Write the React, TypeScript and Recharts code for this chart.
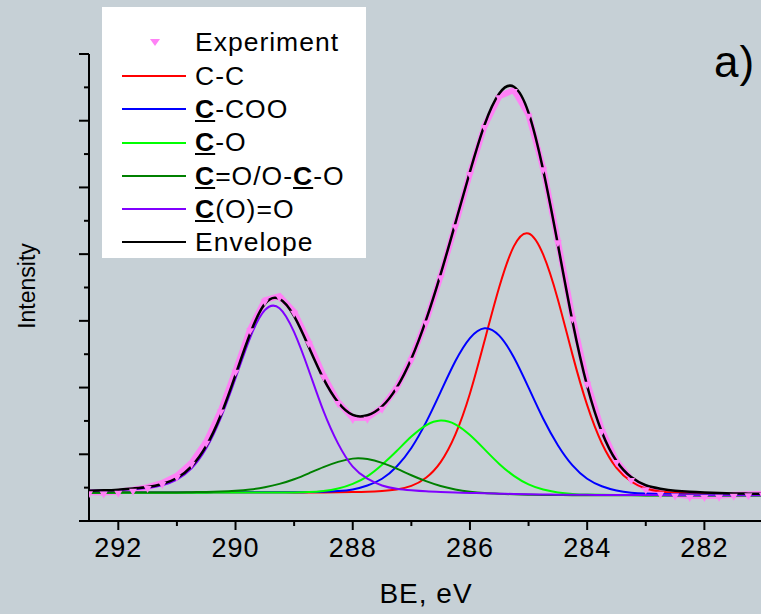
import React from 'react';
import { LineChart, Line, XAxis, YAxis, Legend } from 'recharts';

// binding energy grid (eV)
const be = [292.5, 292.25, 292, 291.75, 291.5, 291.25, 291, 290.75, 290.5, 290.25, 290, 289.75, 289.5, 289.25, 289, 288.75, 288.5, 288.25, 288, 287.75, 287.5, 287.25, 287, 286.75, 286.5, 286.25, 286, 285.75, 285.5, 285.25, 285, 284.75, 284.5, 284.25, 284, 283.75, 283.5, 283.25, 283, 282.75, 282.5, 282.25, 282, 281.75, 281.5, 281.25, 281];

const experiment = [0.43, 0.426, 0.438, 0.468, 0.508, 0.571, 0.679, 0.873, 1.188, 1.656, 2.251, 2.875, 3.31, 3.37, 3.137, 2.68, 2.181, 1.784, 1.543, 1.546, 1.699, 2.0, 2.433, 2.991, 3.67, 4.432, 5.215, 5.922, 6.368, 6.459, 6.088, 5.286, 4.195, 3.049, 2.073, 1.365, 0.899, 0.628, 0.486, 0.425, 0.398, 0.375, 0.375, 0.379, 0.395, 0.4, 0.406];
const cc = [0.425, 0.4252, 0.4255, 0.426, 0.4263, 0.427, 0.4275, 0.428, 0.4287, 0.4296, 0.4306, 0.4318, 0.431, 0.43, 0.4285, 0.4285, 0.429, 0.43, 0.433, 0.438, 0.45, 0.473, 0.526, 0.648, 0.883, 1.294, 1.912, 2.705, 3.508, 4.12, 4.31, 3.992, 3.321, 2.49, 1.736, 1.166, 0.797, 0.592, 0.486, 0.443, 0.423, 0.413, 0.4075, 0.4036, 0.401, 0.3985, 0.396];
const ccoo = [0.425, 0.4252, 0.4255, 0.4258, 0.426, 0.4268, 0.4275, 0.4283, 0.429, 0.43, 0.431, 0.4325, 0.432, 0.431, 0.431, 0.433, 0.438, 0.449, 0.473, 0.532, 0.633, 0.817, 1.095, 1.478, 1.936, 2.394, 2.742, 2.89, 2.778, 2.451, 1.999, 1.532, 1.136, 0.833, 0.633, 0.52, 0.457, 0.425, 0.411, 0.404, 0.3995, 0.397, 0.3945, 0.393, 0.3915, 0.3905, 0.3893];
const co = [0.422, 0.4222, 0.4225, 0.4228, 0.423, 0.4235, 0.424, 0.4245, 0.425, 0.4258, 0.4265, 0.4275, 0.427, 0.426, 0.4275, 0.433, 0.45, 0.487, 0.557, 0.67, 0.843, 1.049, 1.265, 1.435, 1.506, 1.45, 1.288, 1.073, 0.856, 0.677, 0.549, 0.471, 0.428, 0.406, 0.396, 0.392, 0.3895, 0.388, 0.3867, 0.386, 0.3852, 0.3846, 0.3841, 0.3837, 0.3833, 0.383, 0.3828];
const coc = [0.424, 0.425, 0.426, 0.426, 0.427, 0.428, 0.429, 0.432, 0.435, 0.441, 0.453, 0.473, 0.506, 0.556, 0.626, 0.715, 0.808, 0.886, 0.935, 0.928, 0.872, 0.785, 0.686, 0.597, 0.524, 0.473, 0.44, 0.419, 0.408, 0.4, 0.395, 0.391, 0.389, 0.387, 0.386, 0.3855, 0.385, 0.3845, 0.384, 0.384, 0.3835, 0.3833, 0.383, 0.383, 0.3827, 0.3826, 0.3825];
const coo = [0.453, 0.458, 0.464, 0.477, 0.496, 0.536, 0.62, 0.79, 1.09, 1.55, 2.14, 2.75, 3.16, 3.19, 2.83, 2.26, 1.65, 1.16, 0.815, 0.634, 0.533, 0.484, 0.461, 0.445, 0.435, 0.427, 0.421, 0.415, 0.41, 0.405, 0.401, 0.398, 0.395, 0.393, 0.392, 0.391, 0.39, 0.389, 0.3885, 0.388, 0.387, 0.387, 0.386, 0.386, 0.386, 0.385, 0.385];
const envelope = [0.455, 0.46, 0.47, 0.488, 0.51, 0.555, 0.645, 0.82, 1.125, 1.59, 2.19, 2.81, 3.255, 3.33, 3.07, 2.61, 2.135, 1.78, 1.59, 1.585, 1.719, 2.0, 2.433, 3.011, 3.7, 4.462, 5.235, 5.942, 6.408, 6.509, 6.118, 5.256, 4.145, 2.989, 2.023, 1.335, 0.899, 0.658, 0.536, 0.485, 0.455, 0.438, 0.428, 0.42, 0.414, 0.41, 0.406];

const xTicks = [281, 282, 283, 284, 285, 286, 287, 288, 289, 290, 291, 292];
const yTicks = [0, 0.5, 1, 1.5, 2, 2.5, 3, 3.5, 4, 4.5, 5, 5.5, 6, 6.5, 7];

const data = be.map((x, i) => ({
    be: x,
    exp: experiment[i],
    cc: cc[i],
    ccoo: ccoo[i],
    co: co[i],
    coc: coc[i],
    coo: coo[i],
    env: envelope[i],
}));

const BG = '#c6d0d6';
const PINK = '#ff82f6';
const FONT = '"Liberation Sans", Arial, sans-serif';

const C = () => <span style={{ fontWeight: 'bold', textDecoration: 'underline' }}>C</span>;

const legendRows = [
    { key: 'exp', color: PINK, marker: true, label: <>Experiment</> },
    { key: 'cc', color: '#ff0000', label: <>C-C</> },
    { key: 'ccoo', color: '#0000ff', label: <><C />-COO</> },
    { key: 'co', color: '#00ff00', label: <><C />-O</> },
    { key: 'coc', color: '#008000', label: <><C />=O/O-<C />-O</> },
    { key: 'coo', color: '#8000ff', label: <><C />(O)=O</> },
    { key: 'env', color: '#000000', label: <>Envelope</> },
];

const LegendBox = () => (
    <div style={{ background: '#fff', width: 264, height: 251, paddingTop: 19, boxSizing: 'border-box', fontFamily: FONT }}>
        {legendRows.map((r) => (
            <div key={r.key} style={{ display: 'flex', alignItems: 'center', height: 33.3 }}>
                <svg width={93} height={20} style={{ flex: 'none' }}>
                    {r.marker ? (
                        <path d="M48,6 L58,6 L53,13 Z" fill={r.color} />
                    ) : (
                        <line x1={20} x2={84} y1={10} y2={10} stroke={r.color} strokeWidth={2} />
                    )}
                </svg>
                <span style={{ fontSize: 26.5, letterSpacing: 1, color: '#000', lineHeight: 1 }}>{r.label}</span>
            </div>
        ))}
    </div>
);

const XTick = (props: any) => {
    const { x, y, payload } = props;
    const v = payload.value;
    const major = v % 2 === 0;
    return (
        <g>
            <line x1={x} x2={x} y1={y} y2={y + (major ? 9 : 5)} stroke="#000" strokeWidth={2} />
            {major && (
                <text x={x} y={y + 36} textAnchor="middle" fontSize={27} letterSpacing={1} fontFamily={FONT} fill="#000">
                    {v}
                </text>
            )}
        </g>
    );
};

const YTick = (props: any) => {
    const { x, y, payload } = props;
    const major = Number.isInteger(payload.value);
    return <line x1={x - (major ? 10 : 5)} x2={x} y1={y} y2={y} stroke="#000" strokeWidth={2} />;
};

const TriangleDot = (props: any) => {
    const { cx, cy, index } = props;
    if (cx == null || cy == null) return <g key={index} />;
    return <path key={index} d={`M${cx - 4},${cy - 1} L${cx + 4},${cy - 1} L${cx},${cy + 6} Z`} fill={PINK} />;
};

const App = () => {
    return (
        <div style={{ position: 'fixed', left: 0, top: 0, width: 761, height: 614, background: BG, overflow: 'hidden', fontFamily: FONT }}>
            <LineChart width={764} height={614} data={data} margin={{ top: 54, right: 1, bottom: 0, left: 0 }}>
                <XAxis
                    dataKey="be"
                    type="number"
                    domain={[281, 292.5]}
                    reversed
                    allowDataOverflow
                    ticks={xTicks}
                    interval={0}
                    height={93}
                    tickSize={0}
                    tickMargin={0}
                    tickLine={false}
                    tick={XTick}
                    axisLine={{ stroke: '#000', strokeWidth: 2 }}
                    label={() => (
                        <text x={426} y={603} textAnchor="middle" fontSize={28} letterSpacing={1} fontFamily={FONT} fill="#000">
                            BE, eV
                        </text>
                    )}
                />
                <YAxis
                    type="number"
                    domain={[0, 7]}
                    ticks={yTicks}
                    interval={0}
                    width={89}
                    tickSize={0}
                    tickMargin={0}
                    tickLine={false}
                    tick={YTick}
                    axisLine={{ stroke: '#000', strokeWidth: 2 }}
                    label={() => (
                        <text x={27} y={286} transform="rotate(-90 27 286)" textAnchor="middle" dominantBaseline="central" fontSize={23} fontFamily={FONT} fill="#000">
                            Intensity
                        </text>
                    )}
                />
                <Legend
                    layout="vertical"
                    verticalAlign="middle"
                    align="center"
                    content={LegendBox}
                    wrapperStyle={{ left: 102, top: 7, width: 264, height: 251 }}
                />
                <Line dataKey="exp" type="linear" stroke={PINK} strokeWidth={6} dot={TriangleDot} isAnimationActive={false} />
                <Line dataKey="cc" type="natural" stroke="#ff0000" strokeWidth={2} dot={false} isAnimationActive={false} />
                <Line dataKey="ccoo" type="natural" stroke="#0000ff" strokeWidth={2} dot={false} isAnimationActive={false} />
                <Line dataKey="co" type="natural" stroke="#00ff00" strokeWidth={2} dot={false} isAnimationActive={false} />
                <Line dataKey="coc" type="natural" stroke="#008000" strokeWidth={2} dot={false} isAnimationActive={false} />
                <Line dataKey="coo" type="natural" stroke="#8000ff" strokeWidth={2} dot={false} isAnimationActive={false} />
                <Line dataKey="env" type="natural" stroke="#000000" strokeWidth={2.5} dot={false} isAnimationActive={false} />
            </LineChart>
            <div style={{ position: 'absolute', left: 714, top: 40, fontSize: 44, lineHeight: 1, color: '#000', letterSpacing: 1 }}>a)</div>
        </div>
    );
};

export default App;
